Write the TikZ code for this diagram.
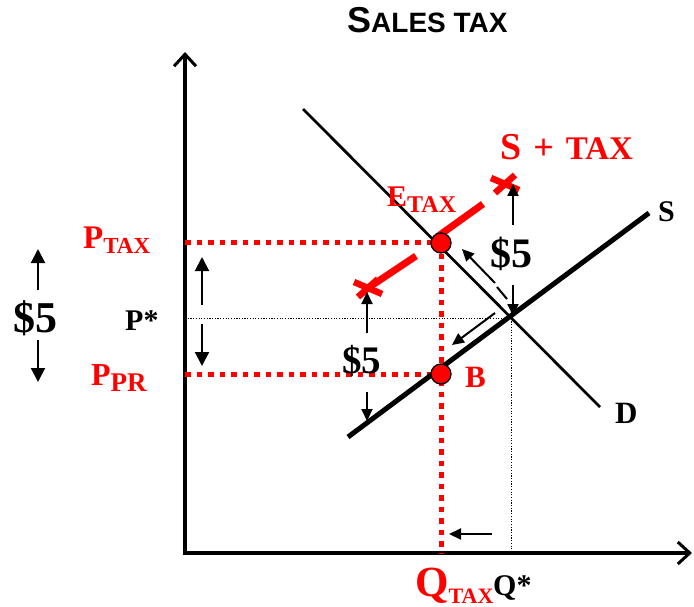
\documentclass[tikz,border=0pt]{standalone}
\usepackage{fontspec}
\setmainfont{Liberation Serif}
\newfontfamily\titlefont{Liberation Sans}
\usetikzlibrary{arrows.meta,calc}
\newcommand\myfs[1]{\fontsize{#1}{#1}\selectfont}
\begin{document}
\begin{tikzpicture}[x=1pt,y=-1pt,
  lbl/.style={inner sep=0pt, anchor=base west, font=\bfseries},
  redlbl/.style={lbl, text=red},
  axis/.style={line width=3.2pt, {Straight Barb[length=12pt,width=22pt,line width=3pt]}-{Straight Barb[length=12pt,width=22pt,line width=3pt]}},
  arr/.style={line width=2pt, -{Triangle[length=14pt,width=14pt]}},
  sarr/.style={line width=2pt, -{Triangle[length=12pt,width=11pt]}},
  reddot/.style={red, line width=5pt, dash pattern=on 5.5pt off 6pt},
  blkdot/.style={black, line width=1pt, dash pattern=on 1.2pt off 1.5pt},
  redline/.style={red, line width=7pt},
  xmark/.style={red, line width=6.5pt},
  eqdot/.style={circle, fill=red, draw=black, line width=1.3pt, minimum size=20pt, inner sep=0pt}
]
\useasboundingbox (0,0) rectangle (694,607);
% axes
\coordinate (ytop) at (185,52);
\coordinate (O) at (185,553);
\coordinate (xend) at (692,553);
\draw[axis] (ytop) -- (O) -- (xend);
% dotted guide lines
\coordinate (Pstar0) at (185,318);
\coordinate (Eq) at (511,318);
\coordinate (Qstar0) at (511,553);
\draw[blkdot] (Pstar0) -- (Eq) -- (Qstar0);
\coordinate (Ptax0) at (185,242);
\coordinate (Ppr0) at (185,374);
\coordinate (Qtax0) at (441,553);
\draw[reddot] (Ptax0) -- (441,242);
\draw[reddot] (Ppr0) -- (441,374);
\draw[reddot] (441,242) -- (Qtax0);
% demand and supply
\coordinate (D1) at (303,109);
\coordinate (D2) at (600,407);
\draw[line width=2.7pt] (D1) -- (D2);
\coordinate (S1) at (348,437);
\coordinate (S2) at (649,213);
\draw[line width=5pt] (S1) -- (S2);
% supply + tax
\coordinate (X1) at (368,288);
\coordinate (X2) at (505,184);
\coordinate (R1) at (416,256);
\coordinate (R2) at (437,237);
\coordinate (R3) at (483,204);
\draw[redline] (X1) -- (R1);
\draw[redline] (R2) -- (R3);
\draw[xmark] ($(X1)+(-14,-6)$) -- ($(X1)+(14,6)$);
\draw[xmark] ($(X1)+(-10,9)$) -- ($(X1)+(10,-9)$);
\draw[xmark] ($(X2)+(-14,-6)$) -- ($(X2)+(14,6)$);
\draw[xmark] ($(X2)+(-10,9)$) -- ($(X2)+(10,-9)$);
% equilibrium points
\node[eqdot] (Etax) at (441,243) {};
\node[eqdot] (Bpt) at (441,374) {};
% arrows
\coordinate (la1) at (38,290); \coordinate (la2) at (38,249);
\coordinate (la3) at (38,340); \coordinate (la4) at (38,382);
\draw[arr] (la1) -- (la2);
\draw[arr] (la3) -- (la4);
\coordinate (aa1) at (202,305); \coordinate (aa2) at (202,257);
\coordinate (aa3) at (202,324); \coordinate (aa4) at (202,366);
\draw[arr] (aa1) -- (aa2);
\draw[arr] (aa3) -- (aa4);
\coordinate (ma1) at (367,333); \coordinate (ma2) at (367,292);
\coordinate (ma3) at (367,392); \coordinate (ma4) at (367,421);
\draw[sarr] (ma1) -- (ma2);
\draw[sarr] (ma3) -- (ma4);
\coordinate (ra1) at (513,225); \coordinate (ra2) at (513,184);
\coordinate (ra3) at (513,285); \coordinate (ra4) at (513,316);
\draw[sarr] (ra1) -- (ra2);
\draw[sarr] (ra3) -- (ra4);
\coordinate (dd1) at (507,299); \coordinate (dd2) at (497,287);
\coordinate (dd3) at (495,283); \coordinate (dd4) at (462,249);
\draw[line width=2pt] (dd1) -- (dd2);
\draw[sarr] (dd3) -- (dd4);
\coordinate (sd1) at (495,313); \coordinate (sd2) at (452,345);
\draw[sarr] (sd1) -- (sd2);
\coordinate (qa1) at (492,534); \coordinate (qa2) at (449,534);
\draw[sarr] (qa1) -- (qa2);
% labels
\node[lbl] (title) at (347,33) {\titlefont\bfseries\myfs{36}S\myfs{28}ALES TAX};
\node[redlbl] (ptax) at (83,248) {\myfs{33}P\raisebox{-5pt}{\myfs{23}TAX}};
\node[redlbl] (ppr) at (91,385) {\myfs{32}P\raisebox{-6pt}{\myfs{27}PR}};
\node[lbl] (pstar) at (125,330) {\myfs{30}P*};
\node[lbl] (d5l) at (13,332) {\myfs{44}\$5};
\node[redlbl] (qtax) at (415,596) {\myfs{43}Q\raisebox{-7pt}{\myfs{22}TAX}};
\node[lbl] (qstar) at (493,595) {\myfs{30}Q*};
\node[redlbl] (etax) at (387,207) {\myfs{30}E\raisebox{-6pt}{\myfs{24}TAX}};
\node[redlbl] (stax) at (500,160) {\myfs{38}S\hspace{12pt}\myfs{36}+\hspace{12pt}\myfs{33}TAX};
\node[lbl] (slbl) at (658,222) {\myfs{30}S};
\node[lbl] (dlbl) at (615,423) {\myfs{31}D};
\node[redlbl] (blbl) at (465,387) {\myfs{31}B};
\node[lbl] (d5m) at (342,373) {\myfs{39}\$5};
\node[lbl] (d5r) at (490,267) {\myfs{42}\$5};
\end{tikzpicture}
\end{document}
